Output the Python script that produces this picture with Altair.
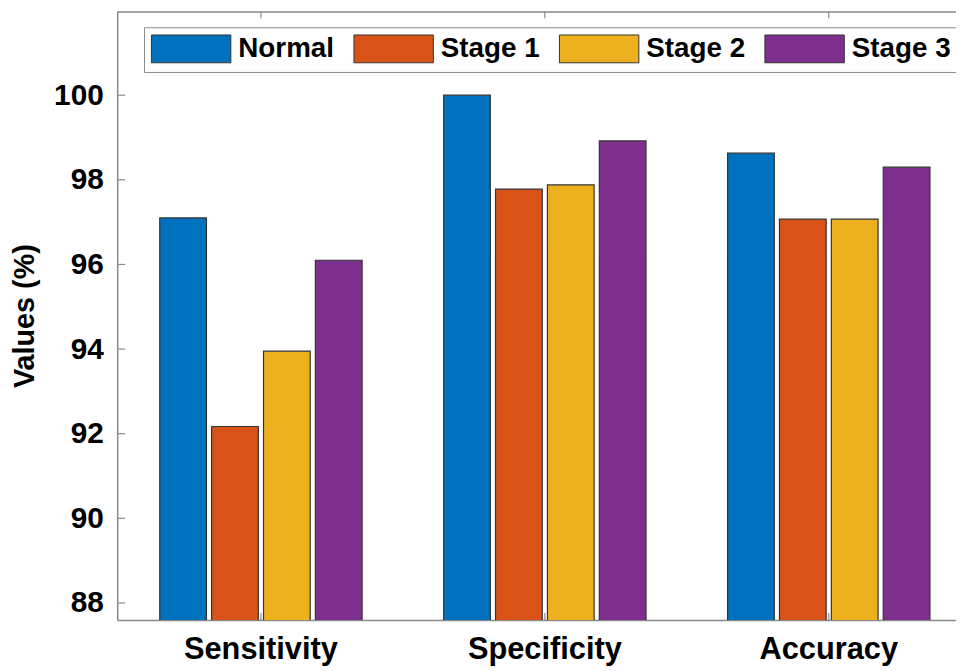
import altair as alt
import pandas as pd

categories = ["Sensitivity", "Specificity", "Accuracy"]
series = ["Normal", "Stage 1", "Stage 2", "Stage 3"]
normal = [97.10, 100.0, 98.63]
stage1 = [92.17, 97.78, 97.07]
stage2 = [93.95, 97.88, 97.07]
stage3 = [96.10, 98.92, 98.30]
y_ticks = [88, 90, 92, 94, 96, 98, 100]
colors = ["#0072BD", "#D95319", "#EDB120", "#7E2F8E"]

rows = []
for s, vals in zip(series, [normal, stage1, stage2, stage3]):
    for c, v in zip(categories, vals):
        rows.append({"metric": c, "group": s, "value": v})
df = pd.DataFrame(rows)
df_ticks = pd.DataFrame({"t": y_ticks})
df_cats = pd.DataFrame({"metric": categories})

W, H = 845, 613
FONT = "Liberation Sans"
AX = "#8a8a8a"

x_scale = alt.Scale(domain=categories, paddingInner=0.269, paddingOuter=0.1117, align=0.63)
y_scale = alt.Scale(domain=[87.60, 101.98], nice=False, zero=False)

bars = alt.Chart(df).mark_bar(stroke="#333333", strokeWidth=1.2, clip=True).encode(
    x=alt.X("metric:N", scale=x_scale, sort=categories,
            axis=alt.Axis(orient="bottom", title=None, labelAngle=0, ticks=False,
                          labelFont=FONT, labelFontSize=31, labelFontWeight="bold",
                          labelColor="black", labelPadding=15, domainColor=AX, domainWidth=1.5)),
    xOffset=alt.XOffset("group:N", sort=series, scale=alt.Scale(paddingInner=0.1, paddingOuter=0.05)),
    y=alt.Y("value:Q", scale=y_scale,
            axis=alt.Axis(values=y_ticks, ticks=False, title="Values (%)", labelPadding=14,
                          labelFont=FONT, labelFontSize=30, labelFontWeight="bold", labelColor="black",
                          titleFont=FONT, titleFontSize=29, titleFontWeight="bold", titleColor="black",
                          titlePadding=14, domainColor=AX, domainWidth=1.5, grid=False)),
    color=alt.Color("group:N", sort=series, scale=alt.Scale(domain=series, range=colors),
                    legend=alt.Legend(title=None, orient="none", legendX=27, legendY=16,
                                      direction="horizontal", columns=4, columnPadding=17,
                                      padding=7, strokeColor=AX, fillColor="white",
                                      symbolType="M-1,-1L4.714,-1L4.714,1L-1,1Z", symbolSize=784,
                                      symbolStrokeColor="#333333", symbolStrokeWidth=1,
                                      labelOffset=59, labelFont=FONT, labelFontSize=28,
                                      labelFontWeight="bold", labelColor="black", labelLimit=300)),
)

yticks = alt.Chart(df_ticks).mark_rule(color=AX, strokeWidth=1.2).encode(
    y=alt.Y("t:Q", scale=y_scale),
    x=alt.value(0), x2=alt.value(8),
)

top_ticks = alt.Chart(df_cats).mark_rule(color=AX, strokeWidth=1.2).encode(
    x=alt.X("metric:N", scale=x_scale, sort=categories,
            axis=alt.Axis(orient="top", labels=False, ticks=False, title=None,
                          domainColor=AX, domainWidth=1.5)),
    y=alt.value(0), y2=alt.value(7),
)

bottom_ticks = alt.Chart(df_cats).mark_rule(color=AX, strokeWidth=1.2).encode(
    x=alt.X("metric:N", scale=x_scale, sort=categories, axis=None),
    y=alt.value(H - 7), y2=alt.value(H),
)

chart = alt.layer(bottom_ticks, bars, yticks, top_ticks).resolve_axis(x="independent").resolve_scale(x="shared").properties(
    width=W, height=H,
    autosize=alt.AutoSizeParams(type="none"),
    padding={"left": 110, "top": 1, "right": 0, "bottom": 44},
).configure_view(stroke=None).configure(background="white")

chart.save("out.html", embed_options={"renderer": "svg", "actions": False})
